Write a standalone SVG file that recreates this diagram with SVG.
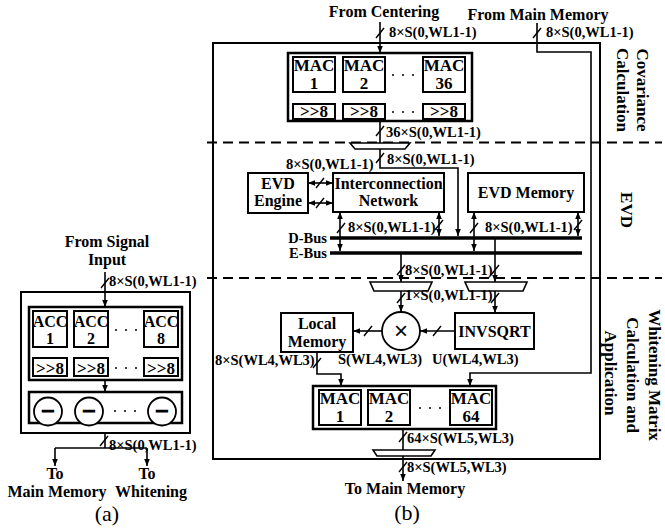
<svg xmlns="http://www.w3.org/2000/svg" width="665" height="531" viewBox="0 0 665 531">
<style>
text{font-family:"Liberation Serif","Times New Roman",serif;font-weight:bold;fill:#000}
.t{font-size:16px}
.l{font-size:14.5px}
.m{font-size:17px}
.s{font-size:17px}
.c{text-anchor:middle}
.cap{font-size:22px;font-weight:normal}
.box{fill:#fff;stroke:#000;stroke-width:2}
.grp{fill:#fff;stroke:#000;stroke-width:2.5}
.w{fill:none;stroke:#000;stroke-width:1.6}
.a{fill:none;stroke:#000;stroke-width:1.6;marker-end:url(#ah)}
.bi{fill:none;stroke:#000;stroke-width:1.6;marker-end:url(#ah);marker-start:url(#ah)}
.sl{stroke:#000;stroke-width:1.4}
.bus{stroke:#000;stroke-width:3.5}
.dash{stroke:#000;stroke-width:1.8;stroke-dasharray:10 6}
.mux{fill:#fff;stroke:#000;stroke-width:1.6}
.dot{fill:#000}
.minus{font-size:24px;stroke:#000;stroke-width:1.2}
</style>
<defs>
<marker id="ah" viewBox="0 0 10 10" refX="10" refY="5" markerWidth="7" markerHeight="7" markerUnits="userSpaceOnUse" orient="auto-start-reverse">
<path d="M0,1 L10,5 L0,9 z" fill="#000"/>
</marker>
</defs>

<!-- ============ Panel (b) ============ -->
<rect id="frameB" x="213" y="43" width="387" height="416" fill="none" stroke="#000" stroke-width="2"/>
<line class="dash" x1="207" y1="142.5" x2="662" y2="142.5"/>
<line class="dash" x1="207" y1="278" x2="662" y2="278"/>

<text class="t c" x="384" y="17">From Centering</text>
<text class="t c" x="538" y="20">From Main Memory</text>

<g id="connectors">
<!-- from centering -->
<line class="a" x1="380" y1="22" x2="380" y2="53"/>
<line class="sl" x1="376" y1="38" x2="384" y2="28"/>
<!-- from main memory -->
<polyline class="a" points="537,23 537,52 591,52 591,373 470,373 470,386"/>
<line class="sl" x1="533" y1="38" x2="541" y2="28"/>
<!-- MAC to >>8 -->
<line class="a" x1="314" y1="92" x2="314" y2="104"/>
<line class="a" x1="364" y1="92" x2="364" y2="104"/>
<line class="a" x1="444" y1="92" x2="444" y2="104"/>
<!-- cov out -->
<line class="w" x1="380" y1="121" x2="380" y2="143"/>
<line class="sl" x1="376" y1="136" x2="384" y2="126"/>
<polyline class="a" points="380,149 380,168 458,168 458,236"/>
<line class="sl" x1="376" y1="163" x2="384" y2="153"/>
<!-- engine <-> interconnection -->
<line class="bi" x1="308" y1="183" x2="333" y2="183"/>
<line class="sl" x1="316" y1="188" x2="324" y2="178"/>
<line class="bi" x1="308" y1="203" x2="333" y2="203"/>
<line class="sl" x1="316" y1="208" x2="324" y2="198"/>
<!-- bus connections -->
<line class="bi" x1="340" y1="212" x2="340" y2="251"/>
<line class="sl" x1="337" y1="233" x2="345" y2="223"/>
<line class="bi" x1="439" y1="212" x2="439" y2="236"/>
<line class="sl" x1="435" y1="230" x2="443" y2="220"/>
<line class="bi" x1="474" y1="212" x2="474" y2="251"/>
<line class="sl" x1="470" y1="233" x2="478" y2="223"/>
<line class="bi" x1="578" y1="212" x2="578" y2="236"/>
<line class="sl" x1="574" y1="230" x2="582" y2="220"/>
<!-- buses to muxes -->
<line class="a" x1="401" y1="253" x2="401" y2="282"/>
<line class="sl" x1="397" y1="275" x2="405" y2="265"/>
<line class="a" x1="495" y1="238" x2="495" y2="282"/>
<line class="sl" x1="491" y1="275" x2="499" y2="265"/>
<!-- muxes to multiplier / invsqrt -->
<line class="a" x1="401" y1="291" x2="401" y2="312"/>
<line class="sl" x1="397" y1="303" x2="405" y2="293"/>
<line class="a" x1="495" y1="291" x2="495" y2="313"/>
<line class="sl" x1="491" y1="303" x2="499" y2="293"/>
<!-- multiplier to local memory, invsqrt to multiplier -->
<line class="a" x1="382" y1="331" x2="353" y2="331"/>
<line class="sl" x1="364" y1="336" x2="372" y2="326"/>
<line class="a" x1="455" y1="331" x2="420" y2="331"/>
<line class="sl" x1="433" y1="336" x2="441" y2="326"/>
<!-- local memory to MAC -->
<polyline class="a" points="317,352 317,374 341,374 341,386"/>
<line class="sl" x1="313" y1="368" x2="321" y2="358"/>
<!-- MAC out -->
<line class="w" x1="403" y1="429" x2="403" y2="450"/>
<line class="sl" x1="399" y1="442" x2="407" y2="432"/>
<line class="a" x1="403" y1="456" x2="403" y2="481"/>
<line class="sl" x1="399" y1="472" x2="407" y2="462"/>

<!-- panel (a) -->
<line class="a" x1="105" y1="272" x2="105" y2="307"/>
<line class="sl" x1="101" y1="288" x2="109" y2="278"/>
<line class="a" x1="50" y1="347" x2="50" y2="358"/>
<line class="a" x1="91" y1="347" x2="91" y2="358"/>
<line class="a" x1="161" y1="347" x2="161" y2="358"/>
<line class="a" x1="105" y1="380" x2="105" y2="392"/>
<line class="w" x1="105" y1="433" x2="105" y2="448"/>
<line class="sl" x1="100" y1="446" x2="108" y2="436"/>
<polyline class="w" points="55,448 147,448"/>
<line class="a" x1="55" y1="448" x2="55" y2="466"/>
<line class="a" x1="147" y1="448" x2="147" y2="466"/>
</g>

<!-- buses -->
<g id="buses">
<line class="bus" x1="330" y1="238" x2="582" y2="238"/>
<line class="bus" x1="330" y1="253" x2="582" y2="253"/>
<text class="l" x="327" y="243" text-anchor="end">D-Bus</text>
<text class="l" x="327" y="258" text-anchor="end">E-Bus</text>
</g>

<!-- covariance MAC group -->
<g id="covMAC">
<rect class="grp" x="288" y="53" width="184" height="68"/>
<rect class="box" x="293" y="57" width="42" height="35"/>
<rect class="box" x="343" y="57" width="42" height="35"/>
<rect class="box" x="423" y="57" width="42" height="35"/>
<text class="m c" x="314" y="71">MAC</text><text class="m c" x="314" y="89">1</text>
<text class="m c" x="364" y="71">MAC</text><text class="m c" x="364" y="89">2</text>
<text class="m c" x="444" y="71">MAC</text><text class="m c" x="444" y="89">36</text>
<rect class="box" x="293" y="104" width="42" height="15"/>
<rect class="box" x="343" y="104" width="42" height="15"/>
<rect class="box" x="423" y="104" width="42" height="15"/>
<text class="s c" x="314" y="117">&gt;&gt;8</text>
<text class="s c" x="364" y="117">&gt;&gt;8</text>
<text class="s c" x="444" y="117">&gt;&gt;8</text>
<circle class="dot" cx="393" cy="75" r="1"/><circle class="dot" cx="403" cy="75" r="1"/><circle class="dot" cx="413" cy="75" r="1"/>
<circle class="dot" cx="393" cy="112" r="1"/><circle class="dot" cx="403" cy="112" r="1"/><circle class="dot" cx="413" cy="112" r="1"/>
</g>

<g id="mux1"><polygon class="mux" points="350,143 410,143 405,149 355,149"/></g>

<g id="evdEngine">
<rect class="box" x="248" y="173" width="60" height="40"/>
<text class="t c" x="278" y="189">EVD</text>
<text class="t c" x="278" y="206">Engine</text>
</g>
<g id="interconnect">
<rect class="box" x="333" y="173" width="111" height="39"/>
<text class="t c" x="388.5" y="189">Interconnection</text>
<text class="t c" x="388.5" y="206">Network</text>
</g>
<g id="evdMemory">
<rect class="box" x="468" y="173" width="116" height="39"/>
<text class="t c" x="526" y="198">EVD Memory</text>
</g>

<g id="mux2"><polygon class="mux" points="370,282 432,282 428,291 374,291"/></g>
<g id="mux3"><polygon class="mux" points="465,282 527,282 523,291 469,291"/></g>

<g id="multiplier">
<circle cx="401" cy="331" r="19" fill="#fff" stroke="#000" stroke-width="1.8"/>
<text x="401" y="339" text-anchor="middle" style="font-family:'Liberation Sans',Arial,sans-serif;font-weight:normal;font-size:24px">×</text>
</g>
<g id="localMemory">
<rect class="box" x="281" y="313" width="72" height="39"/>
<text class="t c" x="317" y="329">Local</text>
<text class="t c" x="317" y="347">Memory</text>
</g>
<g id="invsqrt">
<rect class="box" x="455" y="313" width="79" height="36"/>
<text class="t c" x="494.5" y="337">INVSQRT</text>
</g>

<g id="whiteMAC">
<rect class="grp" x="313" y="386" width="183" height="43"/>
<rect class="box" x="319" y="390" width="42" height="35"/>
<rect class="box" x="368" y="390" width="42" height="35"/>
<rect class="box" x="450" y="390" width="42" height="35"/>
<text class="m c" x="340" y="404">MAC</text><text class="m c" x="340" y="422">1</text>
<text class="m c" x="389" y="404">MAC</text><text class="m c" x="389" y="422">2</text>
<text class="m c" x="471" y="404">MAC</text><text class="m c" x="471" y="422">64</text>
<circle class="dot" cx="420" cy="408" r="1"/><circle class="dot" cx="430" cy="408" r="1"/><circle class="dot" cx="440" cy="408" r="1"/>
</g>
<g id="mux4"><polygon class="mux" points="373,450 435,450 431,456 377,456"/></g>

<!-- labels (b) -->
<g id="labelsB">
<text class="l" x="389" y="37">8×S(0,WL1-1)</text>
<text class="l" x="546" y="37">8×S(0,WL1-1)</text>
<text class="l" x="386" y="137">36×S(0,WL1-1)</text>
<text class="l" x="387" y="164">8×S(0,WL1-1)</text>
<text class="l" x="286" y="169">8×S(0,WL1-1)</text>
<text class="l" x="348" y="232">8×S(0,WL1-1)</text>
<text class="l" x="485" y="232">8×S(0,WL1-1)</text>
<text class="l" x="405" y="275">8×S(0,WL1-1)</text>
<text class="l" x="405" y="300">1×S(0,WL1-1)</text>
<text class="l" x="338" y="364">S(WL4,WL3)</text>
<text class="l" x="432" y="364">U(WL4,WL3)</text>
<text class="l" x="215" y="365">8×S(WL4,WL3)</text>
<text class="l" x="407" y="443">64×S(WL5,WL3)</text>
<text class="l" x="407" y="472">8×S(WL5,WL3)</text>
<text class="t c" x="405" y="494">To Main Memory</text>
<text class="cap c" x="407" y="520">(b)</text>
</g>

<g id="sectionLabels">
<text class="m c" transform="translate(637,90) rotate(90)">Covariance</text>
<text class="m c" transform="translate(617,90) rotate(90)">Calculation</text>
<text class="m c" transform="translate(621,210) rotate(90)">EVD</text>
<text class="m c" transform="translate(649,375) rotate(90)">Whitening Matrix</text>
<text class="m c" transform="translate(627,375) rotate(90)">Calculation and</text>
<text class="m c" transform="translate(605,373) rotate(90)">Application</text>
</g>

<!-- ============ Panel (a) ============ -->
<text class="t c" x="107" y="247">From Signal</text>
<text class="t c" x="107" y="265">Input</text>
<text class="l" x="109" y="286">8×S(0,WL1-1)</text>
<rect id="frameA" x="21" y="292" width="169" height="141" fill="none" stroke="#000" stroke-width="2"/>
<g id="accGroup">
<rect class="grp" x="29" y="307" width="153" height="73"/>
<rect class="box" x="33" y="311" width="34" height="36"/>
<rect class="box" x="74" y="311" width="34" height="36"/>
<rect class="box" x="144" y="311" width="34" height="36"/>
<text class="t c" x="50" y="327">ACC</text><text class="t c" x="50" y="344">1</text>
<text class="t c" x="91" y="327">ACC</text><text class="t c" x="91" y="344">2</text>
<text class="t c" x="161" y="327">ACC</text><text class="t c" x="161" y="344">8</text>
<rect class="box" x="33" y="358" width="34" height="18"/>
<rect class="box" x="74" y="358" width="34" height="18"/>
<rect class="box" x="144" y="358" width="34" height="18"/>
<text class="s c" x="50" y="373.5">&gt;&gt;8</text>
<text class="s c" x="91" y="373.5">&gt;&gt;8</text>
<text class="s c" x="161" y="373.5">&gt;&gt;8</text>
<circle class="dot" cx="116" cy="330" r="1"/><circle class="dot" cx="126" cy="330" r="1"/><circle class="dot" cx="136" cy="330" r="1"/>
<circle class="dot" cx="116" cy="368" r="1"/><circle class="dot" cx="126" cy="368" r="1"/><circle class="dot" cx="136" cy="368" r="1"/>
</g>
<g id="subGroup">
<rect class="grp" x="29" y="392" width="153" height="31"/>
<circle cx="48" cy="411.5" r="14" fill="#fff" stroke="#000" stroke-width="1.8"/>
<circle cx="89" cy="411.5" r="14" fill="#fff" stroke="#000" stroke-width="1.8"/>
<circle cx="162" cy="411.5" r="14" fill="#fff" stroke="#000" stroke-width="1.8"/>
<text class="c minus" x="48" y="419">−</text>
<text class="c minus" x="89" y="419">−</text>
<text class="c minus" x="162" y="419">−</text>
<circle class="dot" cx="115" cy="411" r="1"/><circle class="dot" cx="125" cy="411" r="1"/><circle class="dot" cx="135" cy="411" r="1"/>
</g>
<text class="l" x="109" y="450">8×S(0,WL1-1)</text>
<text class="t c" x="55" y="479">To</text>
<text class="t c" x="57" y="497">Main Memory</text>
<text class="t c" x="147" y="479">To</text>
<text class="t c" x="151" y="497">Whitening</text>
<text class="cap c" x="107" y="521">(a)</text>
</svg>
